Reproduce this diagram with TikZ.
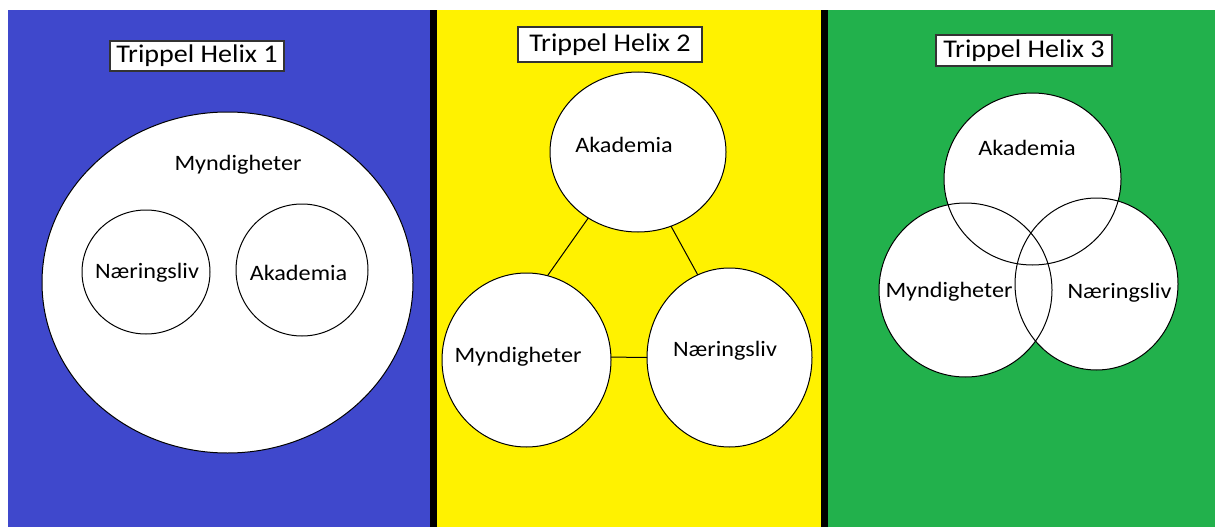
\documentclass[tikz,border=0pt]{standalone}
\usepackage{fontspec}
\setmainfont{Carlito}[FakeStretch=1.1]
\usetikzlibrary{shapes.geometric}
\definecolor{pblue}{RGB}{63,72,204}
\definecolor{pyellow}{RGB}{255,242,0}
\definecolor{pgreen}{RGB}{34,177,76}
\begin{document}
\begin{tikzpicture}[x=1pt,y=-1pt,
  circ/.style={ellipse, fill=white, draw=black, line width=1pt, inner sep=0pt, outer sep=0pt},
  circfill/.style={ellipse, fill=white, inner sep=0pt, outer sep=0pt},
  ring/.style={draw=black, line width=1pt},
  lbl/.style={font=\fontsize{22}{26}\selectfont, text=black, inner sep=0pt},
  ttl/.style={draw=black!80, line width=1.2pt, fill=white, font=\fontsize{25.5}{30}\selectfont, inner sep=0pt},
  conn/.style={line width=1pt, draw=black}]
\useasboundingbox (0,0) rectangle (1215,527);
\fill[white] (0,0) rectangle (1215,527);
\fill[pblue] (8,10) rectangle (430,527);
\fill[black] (430,10) rectangle (437,527);
\fill[pyellow] (437,10) rectangle (821,527);
\fill[black] (821,10) rectangle (828,527);
\fill[pgreen] (828,10) rectangle (1215,527);

% titles
\node[ttl, minimum width=174pt, minimum height=30pt] (t1) at (197,56) {Trippel Helix 1};
\node[ttl, minimum width=184pt, minimum height=35pt] (t2) at (610,44.5) {Trippel Helix 2};
\node[ttl, minimum width=176pt, minimum height=31pt] (t3) at (1024,50.5) {Trippel Helix 3};

% panel 1
\node[circ, minimum width=371pt, minimum height=341pt] (my1) at (227.5,282.5) {};
\node[circ, minimum width=128pt, minimum height=124pt] (nae1) at (146,272) {};
\node[circ, minimum width=132pt, minimum height=132pt] (ak1) at (302,270) {};
\node[lbl] (lmy1) at (238,165) {Myndigheter};
\node[lbl] (lnae1) at (147,273) {Næringsliv};
\node[lbl] (lak1) at (298.5,273) {Akademia};

% panel 2
\node[circ, minimum width=176pt, minimum height=160pt] (ak2) at (638,152) {};
\node[circ, minimum width=169pt, minimum height=174pt] (my2) at (526.5,360) {};
\node[circ, minimum width=165pt, minimum height=179pt] (nae2) at (729.5,357.5) {};
\draw[conn] (ak2.-127) -- (my2.76);
\draw[conn] (ak2.-66) -- (nae2.111);
\draw[conn] (my2.2) -- (nae2.west);
\node[lbl] (lak2) at (624,145) {Akademia};
\node[lbl] (lmy2) at (518,357) {Myndigheter};
\node[lbl] (lnae2) at (725,351) {Næringsliv};

% panel 3
\node[circfill, minimum width=177pt, minimum height=172pt] (ak3) at (1032.5,179) {};
\node[circfill, minimum width=173pt, minimum height=174pt] (my3) at (965.5,290) {};
\node[circfill, minimum width=163pt, minimum height=172pt] (nae3) at (1096.5,284) {};
\draw[ring] (ak3.center) ellipse [x radius=88.5pt, y radius=86pt];
\draw[ring] (my3.center) ellipse [x radius=86.5pt, y radius=87pt];
\draw[ring] (nae3.center) ellipse [x radius=81.5pt, y radius=86pt];
\node[lbl] (lak3) at (1027,148) {Akademia};
\node[lbl] (lmy3) at (949,292) {Myndigheter};
\node[lbl] (lnae3) at (1119.5,293) {Næringsliv};
\end{tikzpicture}
\end{document}
